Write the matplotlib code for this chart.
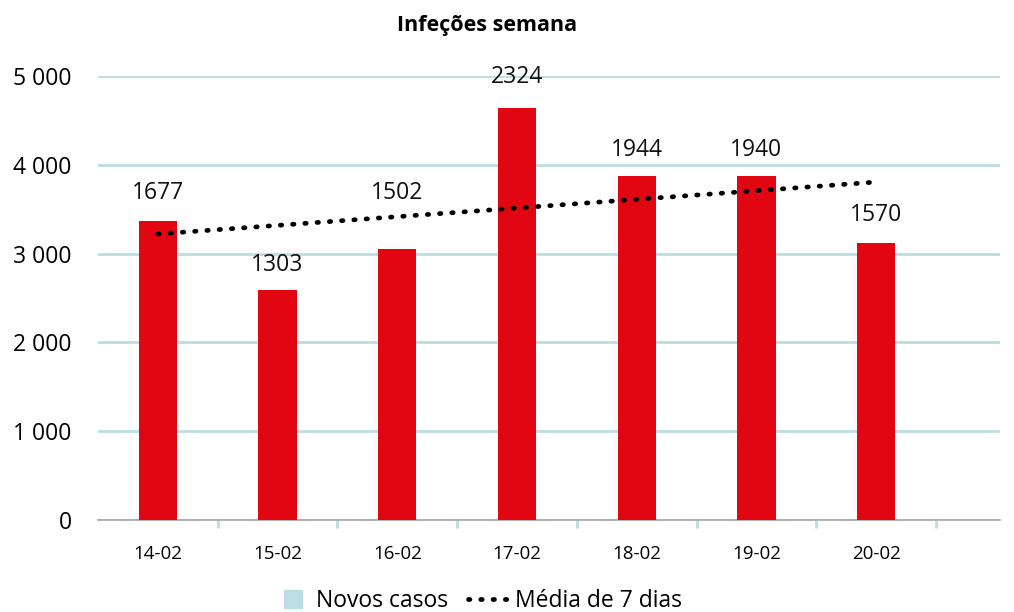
import numpy as np
import matplotlib.pyplot as plt
from matplotlib.patches import Patch
from matplotlib.lines import Line2D

plt.rcParams['font.family'] = ['Open Sans', 'DejaVu Sans']

# data
days = ['14-02', '15-02', '16-02', '17-02', '18-02', '19-02', '20-02']
bar_heights = [3367, 2590, 3052, 4640, 3874, 3874, 3120]
bar_labels = ['1677', '1303', '1502', '2324', '1944', '1940', '1570']
label_y = [3682, 2872, 3682, 4990, 4167, 4167, 3435]
trend = [3221, 3318, 3416, 3513, 3611, 3708, 3806]

grid_col = '#bcdde3'
red = '#e20613'
dots = (0, (0.3, 2.3))

fig = plt.figure(figsize=(10.14, 6.12), dpi=100)
ax = fig.add_axes([98/1014, 92/612, 902/1014, 444/612])

x = np.arange(len(days))
ax.bar(x, bar_heights, width=0.32, color=red, zorder=3)
ax.plot(x, trend, color='black', linestyle=dots, linewidth=3.4,
        dash_capstyle='round', zorder=4)

for xi, lab, ly in zip(x, bar_labels, label_y):
    ax.text(xi, ly, lab, ha='center', va='center', fontsize=16.5, color='#111111')

ax.set_ylim(0, 5000)
ax.set_xlim(-0.5, 7.035)
ax.set_yticks(range(0, 5001, 1000))
ax.set_yticklabels(['0', '1 000', '2 000', '3 000', '4 000', '5 000'], fontsize=16.5)
ax.yaxis.grid(True, color=grid_col, linewidth=2)
ax.set_axisbelow(True)
ax.tick_params(axis='y', length=0, pad=19)

ax.set_xticks(np.arange(0.5, 7, 1))
ax.set_xticklabels([])
ax.set_xticks(x, minor=True)
ax.set_xticklabels(days, minor=True, fontsize=13.5)
ax.tick_params(axis='x', which='major', length=6, width=2, color=grid_col)
ax.tick_params(axis='x', which='minor', length=0, pad=18)

for s in ['top', 'right', 'left']:
    ax.spines[s].set_visible(False)
ax.spines['bottom'].set_color('#a6a6a6')
ax.spines['bottom'].set_linewidth(1.2)

fig.text(487/1014, 1 - 25/612, 'Infeções semana', ha='center', va='center',
         fontsize=15.5, fontweight='bold')

leg1 = fig.legend([Patch(color=grid_col)], ['Novos casos'], loc='center left',
                  bbox_to_anchor=(284/1014, 1 - 601/612), frameon=False,
                  fontsize=16.5, handlelength=0.8, handleheight=0.8,
                  handletextpad=0.6, borderpad=0, borderaxespad=0)
leg2 = fig.legend([Line2D([], [], color='black', linestyle=dots, linewidth=3.4,
                          dash_capstyle='round')],
                  ['Média de 7 dias'], loc='center left',
                  bbox_to_anchor=(468/1014, 1 - 601/612), frameon=False,
                  fontsize=16.5, handlelength=1.75, handletextpad=0.3,
                  borderpad=0, borderaxespad=0)

fig.savefig('out.png', dpi=100)
